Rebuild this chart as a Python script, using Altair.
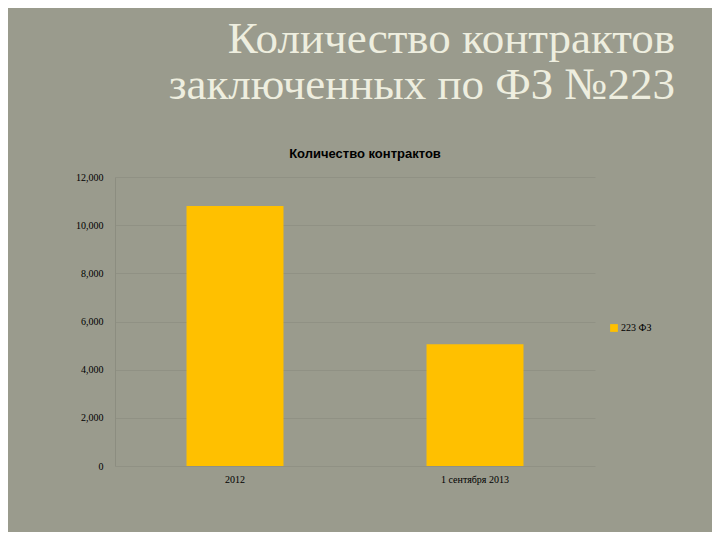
import altair as alt
import pandas as pd

categories = ["2012", "1 сентября 2013"]
values = [10800, 5060]
series = ["223 ФЗ", "223 ФЗ"]
y_ticks = [0, 2000, 4000, 6000, 8000, 10000, 12000]
slide_title_1 = "Количество контрактов"
slide_title_2 = "заключенных по ФЗ №223"
chart_title = "Количество контрактов"

df = pd.DataFrame({"cat": categories, "val": values, "series": series})

W, H = 480, 289
serif = "Liberation Serif"

bars = alt.Chart(df).mark_bar(color="#FFC000").encode(
    x=alt.X("cat:N", sort=categories, title=None,
            scale=alt.Scale(paddingInner=0.596, paddingOuter=0.298),
            axis=alt.Axis(labelAngle=0, labelFont=serif, labelFontSize=10,
                          labelColor="#000000", labelPadding=8, ticks=False,
                          domain=False)),
    y=alt.Y("val:Q", title=None,
            scale=alt.Scale(domain=[0, 12000], nice=False),
            axis=alt.Axis(values=y_ticks, format=",.0f", labelFont=serif,
                          labelFontSize=10, labelColor="#000000",
                          labelPadding=12, ticks=False, domain=True,
                          domainColor="#8c8d80", grid=True,
                          gridColor="#909184", gridWidth=1)),
    fill=alt.Fill("series:N", title=None,
                  scale=alt.Scale(range=["#FFC000"]),
                  legend=alt.Legend(orient="none", legendX=494, legendY=146,
                                    symbolType="square", symbolSize=60,
                                    symbolStrokeWidth=0,
                                    labelFont=serif, labelFontSize=10,
                                    labelColor="#000000", labelOffset=2)),
)


def title_line(text, x, y, color):
    return alt.Chart(pd.DataFrame({"t": [text]})).mark_text(
        font=serif, fontSize=45, align="right", baseline="alphabetic",
        color=color
    ).encode(text="t:N", x=alt.value(x), y=alt.value(y))


t1 = title_line(slide_title_1, 560, -124, "#EEEEDF")
t2 = title_line(slide_title_2, 560, -78, "#EEEEDF")

sub = alt.Chart(pd.DataFrame({"t": [chart_title]})).mark_text(
    font="Liberation Sans", fontSize=13, fontWeight="bold",
    align="center", baseline="alphabetic", color="#000000"
).encode(text="t:N", x=alt.value(250), y=alt.value(-19))

chart = alt.layer(bars, t1, t2, sub).properties(
    width=W, height=H,
    background="#9A9B8D",
    padding={"left": 107, "top": 169, "right": 117, "bottom": 66},
    autosize=alt.AutoSizeParams(type="none"),
).configure_view(stroke=None)

chart.save("out.html", embed_options={"renderer": "svg", "actions": False})
